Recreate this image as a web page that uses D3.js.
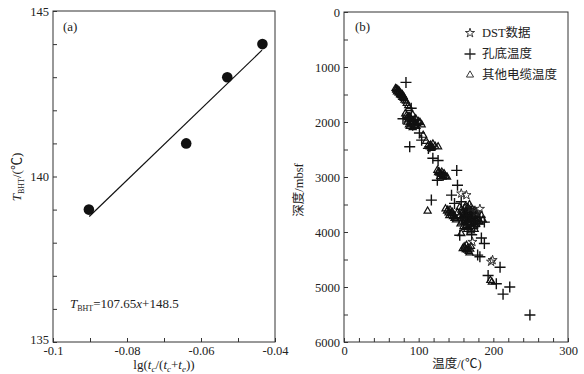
<!DOCTYPE html>
<html>
<head>
<meta charset="utf-8">
<script src="https://cdn.jsdelivr.net/npm/d3@7"></script>
<style>
    body { margin: 0; background: #fff; }
    svg text { font-family: "Liberation Serif", "Noto Sans CJK SC", serif; fill: #222; }
    .axis path, .axis line { stroke: #333; }
</style>
</head>
<body>
<svg id="chart" width="584" height="374"></svg>
<script>
// panel (a): Horner-type BHT correction
const aTicksX = [-0.1, -0.09, -0.08, -0.07, -0.06, -0.05, -0.04];
const aLabelsX = [-0.1, -0.08, -0.06, -0.04];
const aTicksY = [135, 136, 137, 138, 139, 140, 141, 142, 143, 144, 145];
const aLabelsY = [135, 140, 145];
const hornerX = [-0.0903, -0.064, -0.0529, -0.0434];
const hornerT = [139, 141, 143, 144];
const fitSlope = 107.65;
const fitIntercept = 148.5;
const fitRange = [-0.0902, -0.0435];

// panel (b): temperature vs depth
const bTicksX = d3.range(0, 301, 20);
const bLabelsX = [0, 100, 200, 300];
const bTicksY = d3.range(0, 6001, 500);
const bLabelsY = [0, 1000, 2000, 3000, 4000, 5000, 6000];
const legendNames = ['DST数据', '孔底温度', '其他电缆温度'];

// [temperature, depth]
const dstData = [
    [157, 3300], [164, 3330], [170, 3560], [182, 3580], [177, 3640],
    [172, 4180], [197, 4540], [199, 4510]
];
const bhtData = [
    [83, 1280], [90, 1750], [79, 1940], [92, 2060], [101, 2200], [104, 2330],
    [88, 2450], [113, 2480], [115, 2450], [119, 2660], [126, 2700], [151, 2880],
    [133, 2970], [125, 3060], [152, 3150], [144, 3330], [148, 3480], [157, 3450],
    [117, 3420], [166, 3575], [164, 3700], [182, 3730], [188, 3820], [179, 3850],
    [160, 3600], [170, 3800], [175, 3900], [165, 3950], [158, 3750],
    [155, 4060], [171, 4050], [184, 4110], [188, 4210], [179, 4420], [182, 4450],
    [209, 4640], [193, 4790], [204, 4940], [222, 5000], [213, 5130], [249, 5510]
];
const cableData = [
    [69, 1390], [70, 1420], [71, 1450], [72, 1410], [73, 1470], [74, 1440],
    [75, 1500], [76, 1480], [77, 1520], [78, 1550], [79, 1530], [80, 1570],
    [81, 1600], [83, 1620], [84, 1660], [86, 1700], [87, 1750],
    [70, 1400], [72, 1440], [74, 1470], [76, 1510], [78, 1500], [80, 1540],
    [82, 1850], [84, 1880], [85, 1920], [86, 1960], [88, 1900], [89, 2000],
    [90, 1950], [91, 2040], [92, 1870], [93, 1990], [94, 2060], [95, 2010],
    [96, 1940], [97, 2080], [98, 2030], [100, 1990], [102, 2010], [104, 2050],
    [87, 2050], [85, 2000], [88, 2080], [92, 2100], [86, 1900], [90, 2020],
    [94, 1960], [89, 1940], [95, 2070],
    [106, 2240], [110, 2350], [113, 2420], [115, 2450], [117, 2480], [119, 2400],
    [122, 2440], [126, 2450], [116, 2420], [118, 2460],
    [125, 2880], [127, 2900], [128, 2930], [130, 2950], [131, 2910], [133, 2970],
    [134, 2940], [136, 2990], [138, 3000], [129, 2990], [126, 2920], [132, 3000],
    [136, 3580], [138, 3620], [140, 3650], [142, 3600], [144, 3690], [146, 3720],
    [148, 3750], [150, 3780], [141, 3700], [145, 3640], [139, 3600], [143, 3660],
    [147, 3700], [149, 3740],
    [152, 3650], [155, 3700], [157, 3600], [158, 3750], [160, 3680], [161, 3820],
    [162, 3560], [163, 3720], [164, 3880], [165, 3650], [166, 3780], [167, 3700],
    [168, 3600], [169, 3850], [170, 3740], [171, 3660], [172, 3800], [173, 3900],
    [174, 3720], [175, 3620], [176, 3780], [177, 3850], [178, 3700], [180, 3760],
    [182, 3820], [184, 3700], [186, 3780], [160, 3900], [156, 3850], [165, 3950],
    [170, 3980], [175, 3950], [163, 3530], [168, 3500], [155, 3550],
    [159, 3640], [162, 3780], [164, 3610], [166, 3700], [167, 3830], [169, 3660],
    [170, 3900], [171, 3760], [173, 3680], [174, 3830], [166, 3560], [161, 3720],
    [172, 3600], [176, 3700], [178, 3800], [158, 3820], [163, 3900], [168, 3760],
    [112, 3620], [157, 4030],
    [159, 4300], [161, 4270], [163, 4320], [164, 4240], [166, 4290], [167, 4350],
    [169, 4310], [170, 4260], [168, 4380], [162, 4290], [165, 4330],
    [196, 4880], [198, 4910]
];

const svg = d3.select('#chart');
const crossPath = 'M-5.5,0H5.5M0,-5.5V5.5';
const serif = '"Liberation Serif", "Noto Sans CJK SC", serif';

function drawFrame(x, y) {
    const [x0, x1] = x.range();
    const [y0, y1] = y.range();
    svg.append('rect')
        .attr('x', x0).attr('y', Math.min(y0, y1))
        .attr('width', x1 - x0).attr('height', Math.abs(y1 - y0))
        .attr('fill', 'none').attr('stroke', '#333').attr('stroke-width', 1);
}

function drawAxes(x, y, ticksX, labelsX, ticksY, labelsY, fmtX, fmtY, liftFirst) {
    const xAxis = d3.axisBottom(x)
        .tickValues(ticksX)
        .tickSize(-4)
        .tickPadding(4)
        .tickFormat(d => labelsX.some(v => Math.abs(v - d) < 1e-9) ? fmtX(d) : '');
    const yAxis = d3.axisLeft(y)
        .tickValues(ticksY)
        .tickSize(-4)
        .tickPadding(4)
        .tickFormat(d => labelsY.includes(d) ? fmtY(d) : '');

    svg.append('g')
        .attr('class', 'axis')
        .attr('font-family', serif)
        .attr('transform', `translate(0,${d3.max(y.range())})`)
        .call(xAxis)
        .call(g => g.select('.domain').remove())
        .selectAll('text').style('font-size', '12.5px').style('font-family', serif).attr('fill', '#222');

    svg.append('g')
        .attr('class', 'axis')
        .attr('font-family', serif)
        .attr('transform', `translate(${x.range()[0]},0)`)
        .call(yAxis)
        .call(g => g.select('.domain').remove())
        .selectAll('text').style('font-size', '12.5px').style('font-family', serif).attr('fill', '#222')
        .attr('dy', (d, i) => (liftFirst && i == 0) ? '0.15em' : '0.32em');

    drawFrame(x, y);
}

// ---------- panel (a)
const ax = d3.scaleLinear().domain([-0.1, -0.04]).range([53, 275]);
const ay = d3.scaleLinear().domain([135, 145]).range([342, 11]);

drawAxes(ax, ay, aTicksX, aLabelsX, aTicksY, aLabelsY,
    d => String(+d.toFixed(2)), d => String(d), true);

svg.append('line')
    .attr('x1', ax(fitRange[0])).attr('y1', ay(fitSlope * fitRange[0] + fitIntercept))
    .attr('x2', ax(fitRange[1])).attr('y2', ay(fitSlope * fitRange[1] + fitIntercept))
    .attr('stroke', '#111').attr('stroke-width', 1.2);

svg.selectAll('.horner')
    .data(hornerX.map((d, i) => [d, hornerT[i]]))
    .join('circle')
    .attr('class', 'horner')
    .attr('cx', d => ax(d[0]))
    .attr('cy', d => ay(d[1]))
    .attr('r', 5.3)
    .attr('fill', '#111');

svg.append('text').attr('x', 63).attr('y', 31).style('font-size', '13px').text('(a)');

const eq = svg.append('text').attr('x', 70).attr('y', 308).style('font-size', '13px');
eq.append('tspan').style('font-style', 'italic').text('T');
eq.append('tspan').attr('dy', 3).style('font-size', '8px').text('BHT');
eq.append('tspan').attr('dy', -3).text('=107.65');
eq.append('tspan').style('font-style', 'italic').text('x');
eq.append('tspan').text('+148.5');

const axLabel = svg.append('text')
    .attr('x', 164).attr('y', 369)
    .attr('text-anchor', 'middle')
    .style('font-size', '13px');
axLabel.append('tspan').text('lg(');
axLabel.append('tspan').style('font-style', 'italic').text('t');
axLabel.append('tspan').attr('dy', 3).style('font-size', '9px').style('font-style', 'italic').text('c');
axLabel.append('tspan').attr('dy', -3).text('/(');
axLabel.append('tspan').style('font-style', 'italic').text('t');
axLabel.append('tspan').attr('dy', 3).style('font-size', '9px').style('font-style', 'italic').text('c');
axLabel.append('tspan').attr('dy', -3).text('+');
axLabel.append('tspan').style('font-style', 'italic').text('t');
axLabel.append('tspan').attr('dy', 3).style('font-size', '9px').style('font-style', 'italic').text('e');
axLabel.append('tspan').attr('dy', -3).text('))');

const ayLabel = svg.append('text')
    .attr('transform', 'translate(21,177) rotate(-90)')
    .attr('text-anchor', 'middle')
    .style('font-size', '13px');
ayLabel.append('tspan').style('font-style', 'italic').text('T');
ayLabel.append('tspan').attr('dy', 3).style('font-size', '8px').text('BHT');
ayLabel.append('tspan').attr('dy', -3).text('/(℃)');

// ---------- panel (b)
const bx = d3.scaleLinear().domain([0, 300]).range([344, 568]);
const by = d3.scaleLinear().domain([0, 6000]).range([12, 342]);

drawAxes(bx, by, bTicksX, bLabelsX, bTicksY, bLabelsY, d => String(d), d => String(d), false);

const triangle = d3.symbol().type(d3.symbolTriangle).size(22);
const star = d3.symbol().type(d3.symbolStar).size(26);

svg.append('g').selectAll('path')
    .data(cableData)
    .join('path')
    .attr('transform', d => `translate(${bx(d[0])},${by(d[1])})`)
    .attr('d', triangle)
    .attr('fill', 'none')
    .attr('stroke', '#111')
    .attr('stroke-width', 1.2);

svg.append('g').selectAll('path')
    .data(bhtData)
    .join('path')
    .attr('transform', d => `translate(${bx(d[0])},${by(d[1])})`)
    .attr('d', crossPath)
    .attr('fill', 'none')
    .attr('stroke', '#111')
    .attr('stroke-width', 1.4);

svg.append('g').selectAll('path')
    .data(dstData)
    .join('path')
    .attr('transform', d => `translate(${bx(d[0])},${by(d[1])})`)
    .attr('d', star)
    .attr('fill', 'none')
    .attr('stroke', '#222')
    .attr('stroke-width', 0.9);

svg.append('text').attr('x', 355).attr('y', 31).style('font-size', '13px').text('(b)');

// legend
const legendRows = [
    { name: legendNames[0], y: 33, d: star() },
    { name: legendNames[1], y: 54, d: crossPath },
    { name: legendNames[2], y: 75, d: triangle() }
];
const legend = svg.append('g');
legend.selectAll('path')
    .data(legendRows)
    .join('path')
    .attr('transform', d => `translate(470,${d.y})`)
    .attr('d', d => d.d)
    .attr('fill', 'none')
    .attr('stroke', '#222')
    .attr('stroke-width', (d, i) => i == 1 ? 1.3 : 0.9);
legend.selectAll('text')
    .data(legendRows)
    .join('text')
    .attr('x', 482)
    .attr('y', d => d.y)
    .attr('dy', '0.35em')
    .style('font-size', '12.5px')
    .text(d => d.name);

svg.append('text')
    .attr('x', 457).attr('y', 368)
    .attr('text-anchor', 'middle')
    .style('font-size', '12.5px')
    .text('温度/(℃)');

svg.append('text')
    .attr('transform', 'translate(303,190) rotate(-90)')
    .attr('text-anchor', 'middle')
    .style('font-size', '12.5px')
    .text('深度/mbsf');
</script>
</body>
</html>
